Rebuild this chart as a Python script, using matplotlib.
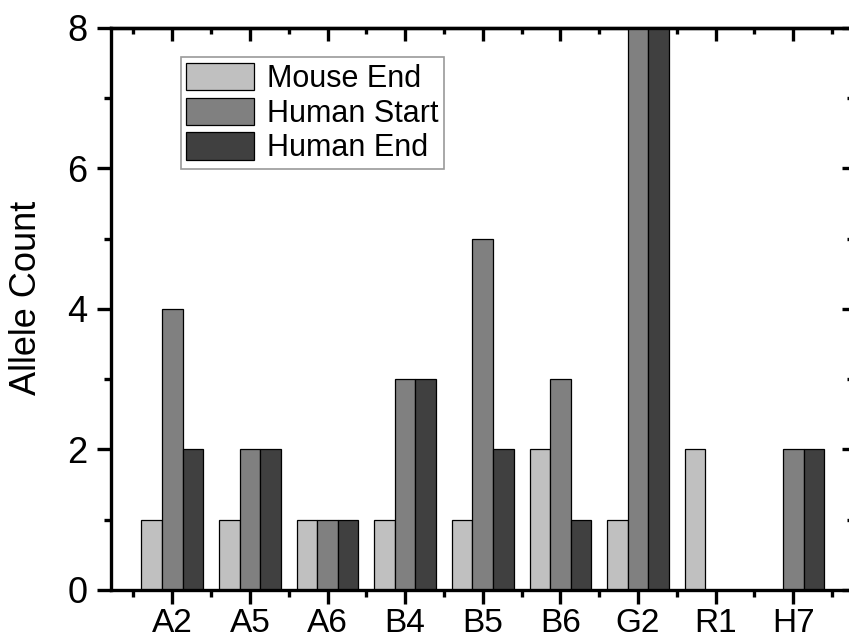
import numpy as np
import matplotlib
matplotlib.use("Agg")
import matplotlib.pyplot as plt
from matplotlib.ticker import MultipleLocator, FixedLocator

plt.rcParams['font.family'] = ['Liberation Sans', 'DejaVu Sans']

alleles = ['A2', 'A5', 'A6', 'B4', 'B5', 'B6', 'G2', 'R1', 'H7']
mouse_end = [1, 1, 1, 1, 1, 2, 1, 2, 0]
human_start = [4, 2, 1, 3, 5, 3, 8, 0, 2]
human_end = [2, 2, 1, 3, 2, 1, 8, 0, 2]

series = [
    ('Mouse End', mouse_end, '#c0c0c0'),
    ('Human Start', human_start, '#808080'),
    ('Human End', human_end, '#404040'),
]

fig = plt.figure(figsize=(8.49, 6.39), dpi=100)
ax = fig.add_axes([0.1307, 0.0767, 0.874, 0.8795])

x = np.arange(len(alleles))
w = 0.265
for i, (name, vals, color) in enumerate(series):
    ax.bar(x + (i - 1) * w, vals, width=w, color=color, edgecolor='black',
           linewidth=0.9, label=name, zorder=2)

ax.set_xlim(-0.79, 8.77)
ax.set_ylim(0, 8)
ax.set_xticks(x)
ax.set_xticklabels(alleles)
ax.xaxis.set_minor_locator(FixedLocator(np.arange(-0.5, 9, 1)))
ax.yaxis.set_major_locator(MultipleLocator(2))
ax.yaxis.set_minor_locator(MultipleLocator(1))

for s in ax.spines.values():
    s.set_linewidth(2.4)

ax.tick_params(axis='both', which='major', direction='out', length=10, width=2.4)
ax.tick_params(axis='both', which='minor', direction='out', length=5, width=2.4)
ax.tick_params(axis='x', which='major', labelsize=24, pad=3)
ax.tick_params(axis='y', which='major', labelsize=26, pad=7)

# mirrored inward ticks on top and right
top = ax.secondary_xaxis('top')
top.set_xticks(x)
top.xaxis.set_minor_locator(FixedLocator(np.arange(-0.5, 9, 1)))
top.tick_params(which='major', direction='in', length=9, width=2.4, labeltop=False)
top.tick_params(which='minor', direction='in', length=4.5, width=2.4)
top.spines['top'].set_linewidth(2.4)

right = ax.secondary_yaxis('right')
right.yaxis.set_major_locator(MultipleLocator(2))
right.yaxis.set_minor_locator(MultipleLocator(1))
right.tick_params(which='major', direction='in', length=8, width=2.4, labelright=False)
right.tick_params(which='minor', direction='in', length=4, width=2.4)
right.spines['right'].set_linewidth(2.4)

ax.set_ylabel('Allele Count', fontsize=26)
ax.yaxis.set_label_coords(-0.09, 0.52)

leg = ax.legend(loc='upper left', bbox_to_anchor=(0.094, 0.948), fontsize=22,
                handlelength=2.23, handleheight=1.0, handletextpad=0.4,
                labelspacing=0.12, borderpad=0.18, borderaxespad=0,
                fancybox=False, frameon=True)
leg.get_frame().set_edgecolor('#808080')
leg.get_frame().set_linewidth(1.2)

fig.savefig('out.png', dpi=100)
